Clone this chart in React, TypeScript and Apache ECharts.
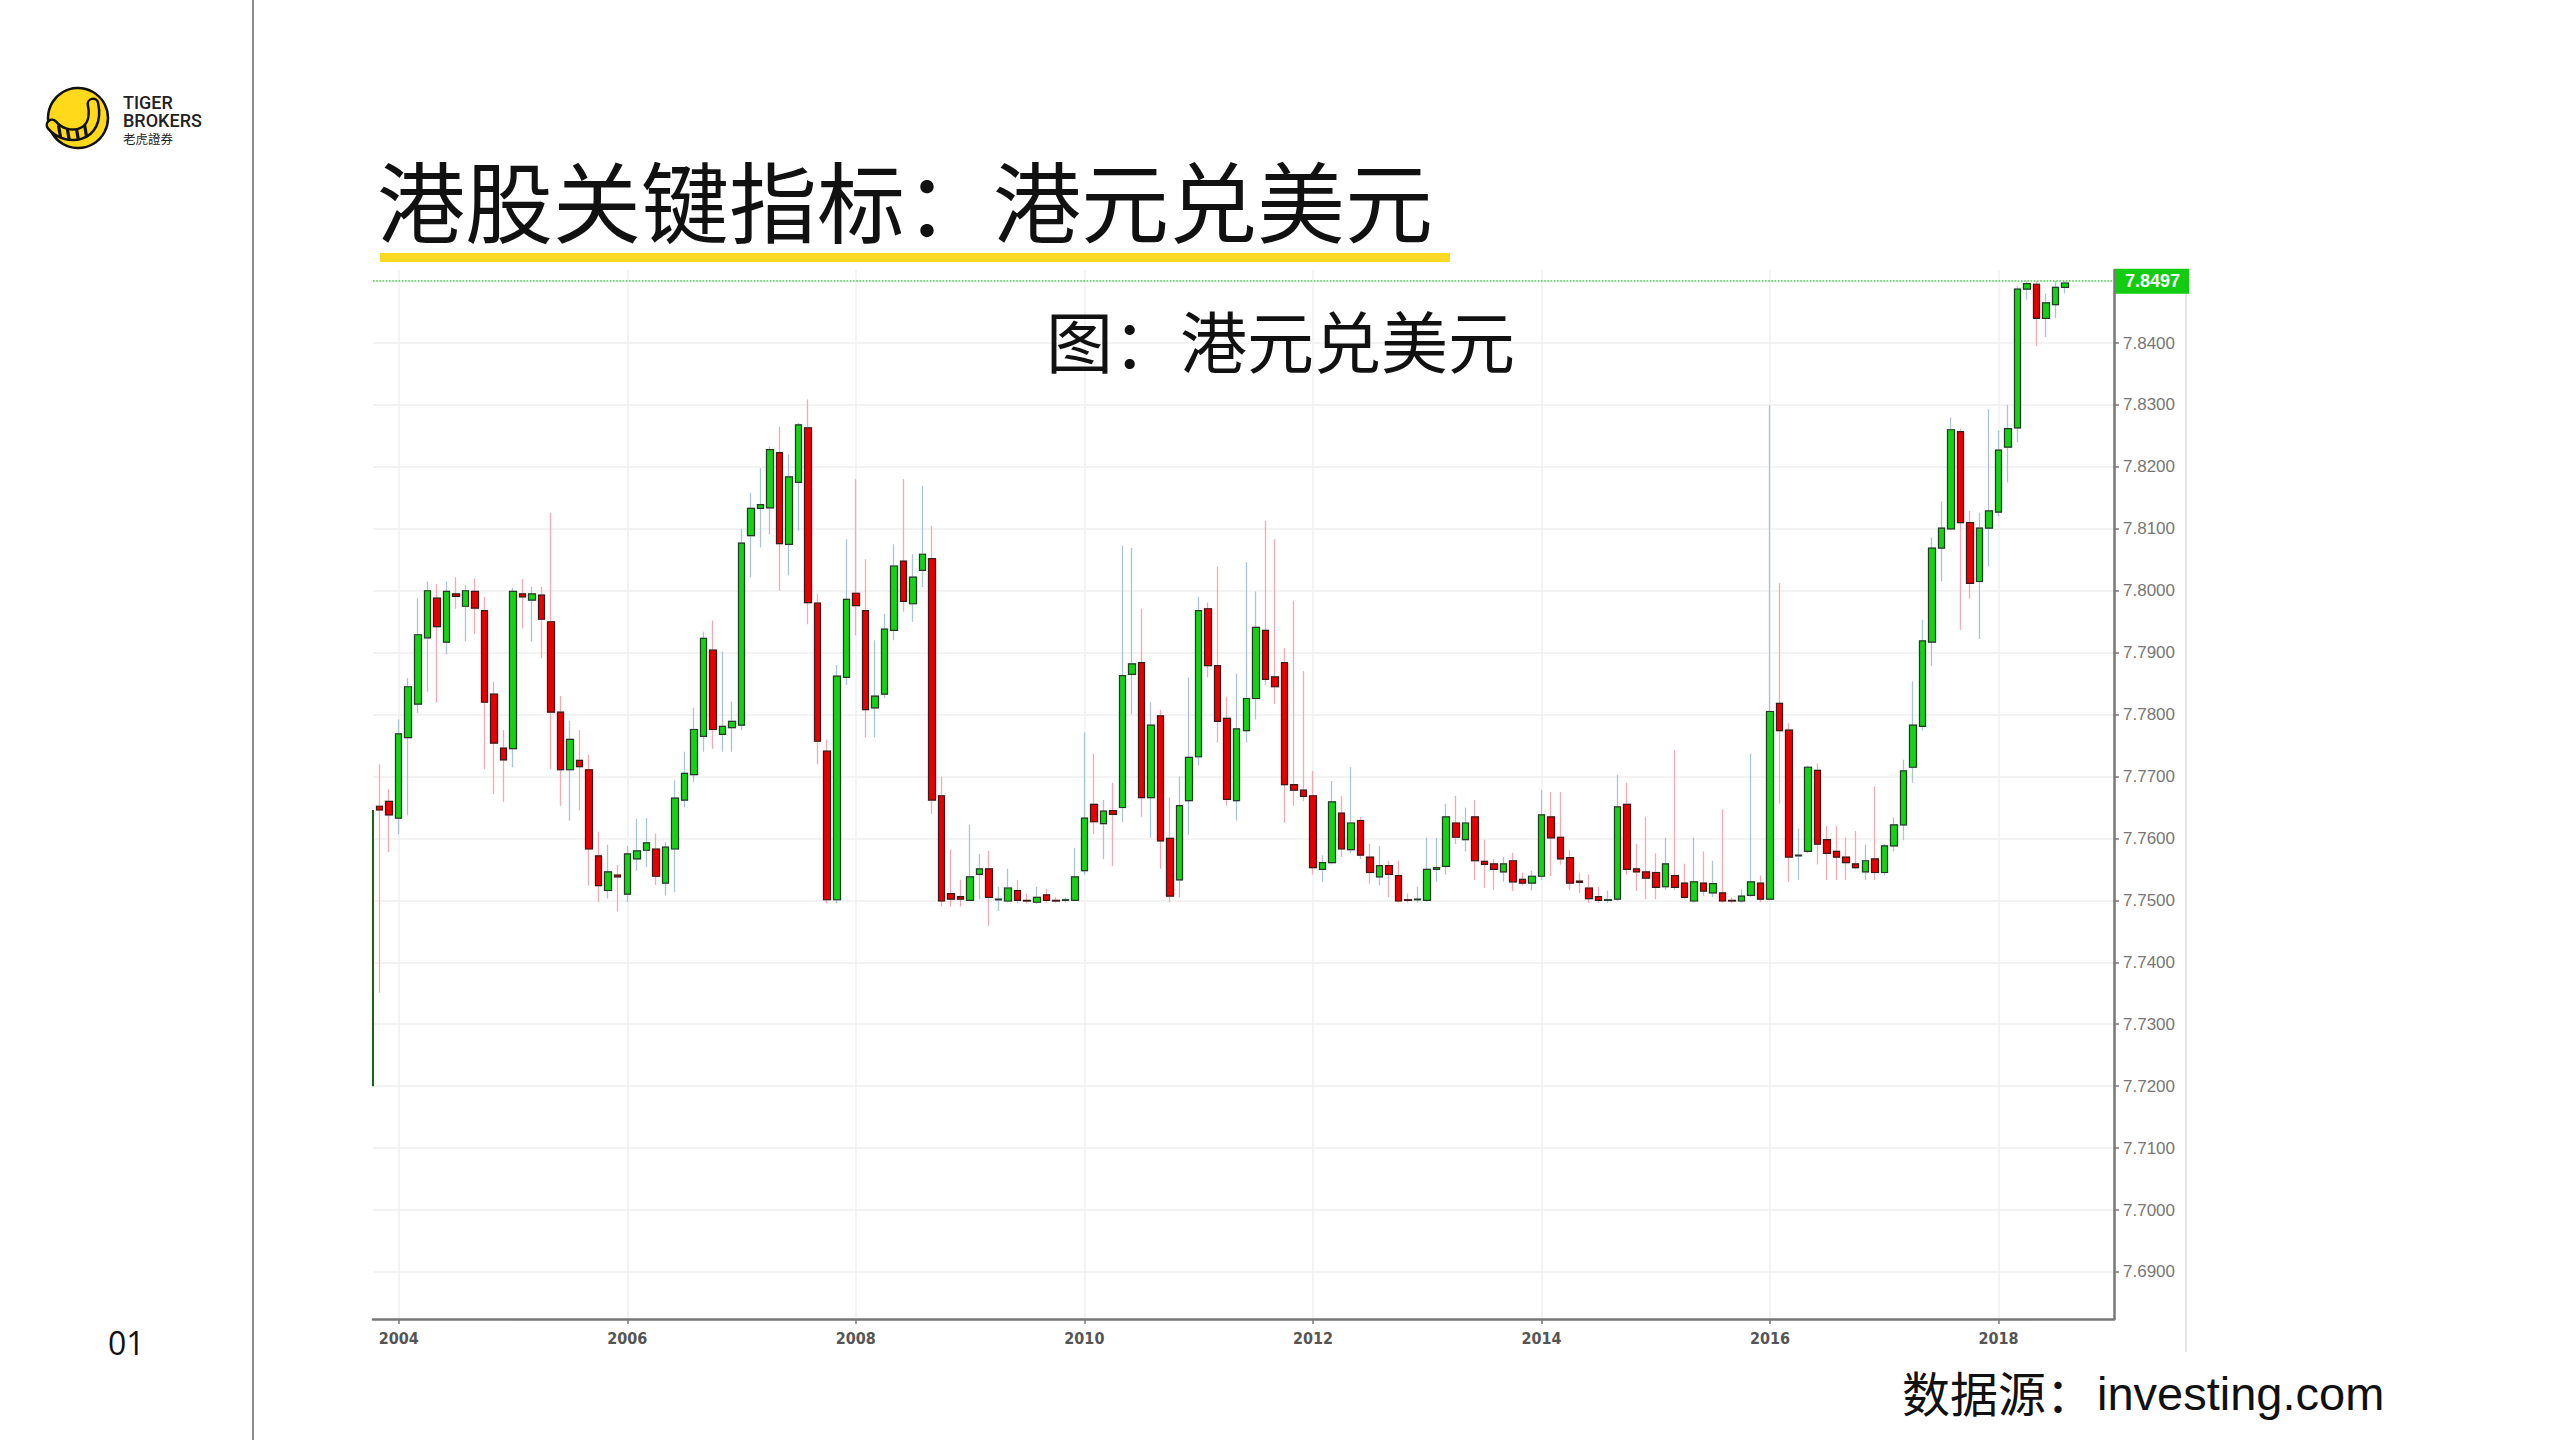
import React, { useEffect, useRef } from "react";
import * as echarts from "echarts";

// Monthly USD/HKD candles, first candle = October 2003
const FIRST_YEAR = 2003;
const FIRST_MONTH = 10;

const openValues = [
  7.7200, 7.7652, 7.7660,
  7.7633, 7.7763, 7.7817, 7.7924, 7.7988, 7.7917, 7.7995, 7.7975, 7.7999, 7.7968, 7.7833, 7.7746,
  7.7745, 7.7995, 7.7985, 7.7993, 7.7950, 7.7804, 7.7711, 7.7726, 7.7711, 7.7572, 7.7516, 7.7541,
  7.7510, 7.7567, 7.7581, 7.7583, 7.7528, 7.7583, 7.7662, 7.7703, 7.7765, 7.7904, 7.7768, 7.7779,
  7.7783, 7.8089, 7.8133, 7.8134, 7.8223, 7.8075, 7.8175, 7.8263, 7.7980, 7.7741, 7.7501, 7.7860,
  7.7996, 7.7968, 7.7811, 7.7833, 7.7936, 7.8048, 7.7979, 7.8033, 7.8052, 7.7669, 7.7511, 7.7506,
  7.7500, 7.7542, 7.7551, 7.7501, 7.7499, 7.7516, 7.7500, 7.7497, 7.7509, 7.7500, 7.7500, 7.7500,
  7.7548, 7.7655, 7.7624, 7.7645, 7.7650, 7.7865, 7.7884, 7.7666, 7.7798, 7.7600, 7.7533, 7.7661,
  7.7732, 7.7971, 7.7879, 7.7794, 7.7661, 7.7774, 7.7826, 7.7936, 7.7861, 7.7884, 7.7687, 7.7678,
  7.7669, 7.7550, 7.7561, 7.7641, 7.7582, 7.7629, 7.7570, 7.7538, 7.7556, 7.7540, 7.7501, 7.7501,
  7.7500, 7.7550, 7.7555, 7.7625, 7.7598, 7.7635, 7.7563, 7.7559, 7.7546, 7.7564, 7.7534, 7.7528,
  7.7539, 7.7635, 7.7602, 7.7569, 7.7531, 7.7520, 7.7506, 7.7500, 7.7502, 7.7655, 7.7551, 7.7546,
  7.7545, 7.7522, 7.7540, 7.7528, 7.7499, 7.7528, 7.7512, 7.7512, 7.7500, 7.7499, 7.7508, 7.7528,
  7.7502, 7.7818, 7.7775, 7.7572, 7.7579, 7.7710, 7.7598, 7.7579, 7.7570, 7.7559, 7.7546, 7.7567,
  7.7545, 7.7588, 7.7622, 7.7715, 7.7781, 7.7917, 7.8069, 7.8100, 7.8257, 7.8110, 7.8015, 7.8101,
  7.8127, 7.8232, 7.8263, 7.8487, 7.8495, 7.8440, 7.8462, 7.8490,
];

const closeValues = [
  7.7646, 7.7646, 7.7638,
  7.7769, 7.7845, 7.7929, 7.8000, 7.7942, 7.7999, 7.7991, 7.8000, 7.7972, 7.7820, 7.7754, 7.7727,
  7.7999, 7.7990, 7.7995, 7.7954, 7.7804, 7.7711, 7.7760, 7.7716, 7.7583, 7.7524, 7.7546, 7.7538,
  7.7575, 7.7580, 7.7593, 7.7539, 7.7586, 7.7665, 7.7705, 7.7776, 7.7923, 7.7776, 7.7781, 7.7789,
  7.8077, 7.8133, 7.8139, 7.8228, 7.8076, 7.8184, 7.8268, 7.7981, 7.7757, 7.7501, 7.7862, 7.7986,
  7.7976, 7.7808, 7.7830, 7.7938, 7.8040, 7.7983, 7.8022, 7.8059, 7.7662, 7.7499, 7.7502, 7.7502,
  7.7538, 7.7551, 7.7505, 7.7502, 7.7520, 7.7500, 7.7499, 7.7505, 7.7500, 7.7499, 7.7501, 7.7538,
  7.7633, 7.7627, 7.7644, 7.7639, 7.7863, 7.7882, 7.7666, 7.7783, 7.7596, 7.7507, 7.7653, 7.7731,
  7.7968, 7.7879, 7.7789, 7.7663, 7.7777, 7.7826, 7.7941, 7.7857, 7.7845, 7.7687, 7.7678, 7.7668,
  7.7553, 7.7561, 7.7659, 7.7583, 7.7625, 7.7573, 7.7545, 7.7556, 7.7542, 7.7499, 7.7500, 7.7502,
  7.7550, 7.7553, 7.7635, 7.7602, 7.7625, 7.7564, 7.7558, 7.7550, 7.7559, 7.7530, 7.7528, 7.7539,
  7.7638, 7.7601, 7.7567, 7.7528, 7.7529, 7.7503, 7.7500, 7.7501, 7.7651, 7.7550, 7.7546, 7.7536,
  7.7521, 7.7559, 7.7521, 7.7505, 7.7530, 7.7515, 7.7527, 7.7499, 7.7499, 7.7507, 7.7530, 7.7502,
  7.7805, 7.7774, 7.7570, 7.7573, 7.7715, 7.7591, 7.7576, 7.7570, 7.7561, 7.7553, 7.7564, 7.7545,
  7.7588, 7.7622, 7.7709, 7.7783, 7.7919, 7.8069, 7.8101, 7.8260, 7.8110, 7.8012, 7.8101, 7.8129,
  7.8227, 7.8262, 7.8487, 7.8496, 7.8440, 7.8465, 7.8490, 7.8497,
];

const lowValues = [
  7.7150, 7.7351, 7.7578,
  7.7607, 7.7637, 7.7803, 7.7837, 7.7819, 7.7897, 7.7971, 7.7918, 7.7930, 7.7712, 7.7672, 7.7659,
  7.7715, 7.7939, 7.7918, 7.7891, 7.7712, 7.7653, 7.7629, 7.7645, 7.7524, 7.7497, 7.7503, 7.7482,
  7.7497, 7.7548, 7.7554, 7.7525, 7.7508, 7.7513, 7.7650, 7.7691, 7.7740, 7.7745, 7.7740, 7.7740,
  7.7775, 7.8022, 7.8070, 7.8091, 7.8000, 7.8025, 7.8097, 7.7946, 7.7720, 7.7495, 7.7495, 7.7848,
  7.7928, 7.7763, 7.7763, 7.7827, 7.7920, 7.7966, 7.7950, 7.8006, 7.7640, 7.7490, 7.7490, 7.7490,
  7.7499, 7.7502, 7.7459, 7.7483, 7.7496, 7.7495, 7.7495, 7.7494, 7.7496, 7.7496, 7.7496, 7.7499,
  7.7542, 7.7607, 7.7567, 7.7555, 7.7626, 7.7800, 7.7635, 7.7601, 7.7551, 7.7497, 7.7505, 7.7606,
  7.7718, 7.7860, 7.7755, 7.7653, 7.7629, 7.7755, 7.7792, 7.7848, 7.7817, 7.7625, 7.7653, 7.7660,
  7.7542, 7.7530, 7.7558, 7.7570, 7.7576, 7.7567, 7.7527, 7.7524, 7.7505, 7.7496, 7.7496, 7.7496,
  7.7498, 7.7530, 7.7542, 7.7591, 7.7579, 7.7533, 7.7520, 7.7517, 7.7530, 7.7515, 7.7524, 7.7516,
  7.7533, 7.7539, 7.7558, 7.7517, 7.7512, 7.7496, 7.7496, 7.7496, 7.7499, 7.7542, 7.7515, 7.7502,
  7.7502, 7.7517, 7.7517, 7.7502, 7.7496, 7.7507, 7.7505, 7.7496, 7.7496, 7.7496, 7.7505, 7.7497,
  7.7500, 7.7656, 7.7530, 7.7533, 7.7576, 7.7558, 7.7533, 7.7533, 7.7533, 7.7550, 7.7533, 7.7533,
  7.7540, 7.7579, 7.7597, 7.7690, 7.7774, 7.7879, 7.8015, 7.8098, 7.7937, 7.7987, 7.7922, 7.8039,
  7.8120, 7.8175, 7.8240, 7.8470, 7.8395, 7.8410, 7.8440, 7.8480,
];

const highValues = [
  7.7660, 7.7720, 7.7680,
  7.7792, 7.7859, 7.7988, 7.8015, 7.8011, 7.8015, 7.8022, 7.8009, 7.8020, 7.7990, 7.7853, 7.7775,
  7.8005, 7.8019, 7.8006, 7.8006, 7.8126, 7.7830, 7.7790, 7.7775, 7.7735, 7.7611, 7.7590, 7.7557,
  7.7588, 7.7632, 7.7633, 7.7608, 7.7594, 7.7694, 7.7740, 7.7811, 7.7934, 7.7952, 7.7902, 7.7821,
  7.8100, 7.8158, 7.8198, 7.8233, 7.8265, 7.8220, 7.8271, 7.8309, 7.7995, 7.7760, 7.7880, 7.8083,
  7.8180, 7.8051, 7.7920, 7.7963, 7.8075, 7.8180, 7.8059, 7.8169, 7.8105, 7.7700, 7.7582, 7.7533,
  7.7622, 7.7575, 7.7580, 7.7522, 7.7551, 7.7533, 7.7511, 7.7522, 7.7519, 7.7505, 7.7505, 7.7585,
  7.7771, 7.7737, 7.7662, 7.7690, 7.8073, 7.8069, 7.7971, 7.7820, 7.7808, 7.7666, 7.7700, 7.7860,
  7.7990, 7.7981, 7.8039, 7.7829, 7.7866, 7.8046, 7.7999, 7.8113, 7.8083, 7.7907, 7.7984, 7.7870,
  7.7709, 7.7573, 7.7693, 7.7669, 7.7715, 7.7635, 7.7591, 7.7588, 7.7564, 7.7564, 7.7511, 7.7522,
  7.7601, 7.7601, 7.7656, 7.7669, 7.7650, 7.7662, 7.7598, 7.7567, 7.7570, 7.7577, 7.7545, 7.7548,
  7.7678, 7.7675, 7.7675, 7.7581, 7.7545, 7.7542, 7.7522, 7.7516, 7.7703, 7.7690, 7.7591, 7.7635,
  7.7576, 7.7601, 7.7743, 7.7559, 7.7601, 7.7579, 7.7564, 7.7647, 7.7505, 7.7518, 7.7737, 7.7540,
  7.8299, 7.8012, 7.7786, 7.7616, 7.7718, 7.7721, 7.7620, 7.7620, 7.7601, 7.7612, 7.7590, 7.7684,
  7.7591, 7.7634, 7.7727, 7.7854, 7.7953, 7.8086, 7.8144, 7.8280, 7.8262, 7.8129, 7.8126, 7.8293,
  7.8259, 7.8300, 7.8492, 7.8500, 7.8500, 7.8480, 7.8500, 7.8500,
];

const yearTicks = [2004, 2006, 2008, 2010, 2012, 2014, 2016, 2018];
const priceTicks = [
  7.69, 7.7, 7.71, 7.72, 7.73, 7.74, 7.75, 7.76, 7.77, 7.78, 7.79, 7.8, 7.81, 7.82, 7.83, 7.84,
];
const lastPrice = 7.8497;

const X_MIN = 2003.775;
const X_MAX = 2019.01;
const Y_MIN = 7.6824;
const Y_MAX = 7.8518;

const CJK = "'Noto Sans CJK SC', 'Noto Sans', sans-serif";
const YELLOW = "#FAD923";

export default function App() {
  const ref = useRef<HTMLDivElement>(null);

  useEffect(() => {
    if (!ref.current) return;
    const chart = echarts.init(ref.current, null, { renderer: "svg" });

    const xs = openValues.map((_, i) => FIRST_YEAR + (FIRST_MONTH - 1 + i) / 12);
    // candles whose centre lies left of the axis start are cut by the plot edge:
    // only their right body border is visible there
    const cut = xs.map((x, i) => i).filter((i) => xs[i] < X_MIN);
    const shown = xs.map((x, i) => i).filter((i) => xs[i] >= X_MIN);

    const wickData = shown.map((i) => [xs[i], openValues[i], closeValues[i], lowValues[i], highValues[i]]);
    const bodyData = shown.map((i) => [
      xs[i],
      openValues[i],
      closeValues[i],
      Math.min(openValues[i], closeValues[i]),
      Math.max(openValues[i], closeValues[i]),
    ]);
    const cutEdges = cut.map((i) => [
      {
        coord: [X_MIN, openValues[i]],
        lineStyle: { color: "#1f5f1f", width: 2, type: "solid" },
        label: { show: false },
      },
      { coord: [X_MIN, closeValues[i]] },
    ]);

    // tiger tail geometry (logo)
    const tail = { x1: 52, y1: 125, cpx1: 66, cpy1: 142, cpx2: 100, cpy2: 138, x2: 93, y2: 104 };
    const stripePts = [
      [59.5, 131.2],
      [68.3, 134.4],
      [77.4, 134.3],
      [85.6, 131],
    ];

    chart.setOption({
      animation: false,
      backgroundColor: "#ffffff",
      grid: {
        left: 373,
        top: 270,
        width: 1741,
        height: 1049,
        containLabel: false,
        outerBoundsMode: "none",
      },
      xAxis: {
        type: "value",
        min: X_MIN,
        max: X_MAX,
        axisLine: { show: true, onZero: false, lineStyle: { color: "#777777", width: 2.5 } },
        axisTick: {
          show: true,
          customValues: yearTicks,
          length: 5,
          lineStyle: { color: "#777777", width: 1.5 },
        },
        axisLabel: {
          show: true,
          customValues: yearTicks,
          formatter: (v: number) => String(Math.round(v)),
          color: "#555555",
          fontSize: 16,
          fontWeight: "bold",
          fontFamily: "'Liberation Sans Narrow', 'DejaVu Sans Condensed', 'Liberation Sans', sans-serif",
          margin: 11,
        },
        splitLine: { show: true, lineStyle: { color: "#eef0f2", width: 1.5 } },
      },
      yAxis: {
        type: "value",
        position: "right",
        min: Y_MIN,
        max: Y_MAX,
        scale: true,
        axisLine: { show: true, lineStyle: { color: "#777777", width: 2.5 } },
        axisTick: {
          show: true,
          customValues: priceTicks,
          length: 5,
          lineStyle: { color: "#777777", width: 1.5 },
        },
        axisLabel: {
          show: true,
          customValues: priceTicks,
          formatter: (v: number) => v.toFixed(4),
          color: "#777777",
          fontSize: 17,
          fontFamily: "'Liberation Sans', Arial, sans-serif",
          margin: 9,
        },
        splitLine: { show: true, lineStyle: { color: "#efefef", width: 1.5 } },
      },
      series: [
        {
          type: "candlestick",
          name: "wick",
          data: wickData,
          barWidth: 7,
          clip: true,
          silent: true,
          z: 2,
          itemStyle: {
            color: "rgba(0,0,0,0)",
            color0: "rgba(0,0,0,0)",
            borderColor: "#a9c5d2",
            borderColor0: "#f4a9b3",
            borderColorDoji: "#a9c5d2",
            borderWidth: 1.3,
          },
        },
        {
          type: "candlestick",
          name: "body",
          data: bodyData,
          barWidth: 7,
          clip: true,
          silent: true,
          z: 3,
          itemStyle: {
            color: "#14d214",
            color0: "#e80000",
            borderColor: "#263826",
            borderColor0: "#3a1a1a",
            borderColorDoji: "#333333",
            borderWidth: 1.2,
          },
          markLine: {
            silent: true,
            animation: false,
            symbol: ["none", "none"],
            lineStyle: { color: "#3ccf3c", type: "dotted", width: 1.6 },
            emphasis: { disabled: true },
            label: {
              show: true,
              position: "end",
              formatter: lastPrice.toFixed(4),
              color: "#ffffff",
              backgroundColor: "#11cc11",
              fontSize: 18,
              fontWeight: "bold",
              fontFamily: "'Liberation Sans', Arial, sans-serif",
              padding: [4, 9, 3, 10],
              distance: 1,
            },
            data: [{ yAxis: lastPrice }, ...cutEdges],
          },
        },
      ],
      graphic: [
        // left page separator
        {
          type: "line",
          shape: { x1: 253, y1: 0, x2: 253, y2: 1440 },
          style: { stroke: "#8c8c8c", lineWidth: 2 },
        },
        // right edge of chart image
        {
          type: "line",
          shape: { x1: 2186, y1: 269, x2: 2186, y2: 1352 },
          style: { stroke: "#dddddd", lineWidth: 1.5 },
        },
        // logo
        {
          type: "circle",
          shape: { cx: 78, cy: 118, r: 30 },
          style: { fill: "#FFD91A", stroke: "#111111", lineWidth: 2.5 },
        },
        {
          type: "bezierCurve",
          shape: tail,
          style: { stroke: "#111111", lineWidth: 13, fill: "none", lineCap: "round" },
        },
        {
          type: "bezierCurve",
          shape: tail,
          style: { stroke: "#FFD91A", lineWidth: 8, fill: "none", lineCap: "round" },
        },
        ...stripePts.map(([sx, sy]) => ({
          type: "line",
          shape: { x1: sx - 1, y1: sy - 6, x2: sx + 1, y2: sy + 6 },
          style: { stroke: "#111111", lineWidth: 3.2 },
        })),
        {
          type: "text",
          x: 123,
          y: 102,
          style: {
            text: "TIGER",
            fill: "#222222",
            fontSize: 18,
            fontWeight: 500,
            fontFamily: "Roboto, 'Liberation Sans', sans-serif",
            verticalAlign: "middle",
            align: "left",
          },
        },
        {
          type: "text",
          x: 123,
          y: 120,
          style: {
            text: "BROKERS",
            fill: "#222222",
            fontSize: 18,
            fontWeight: 500,
            fontFamily: "Roboto, 'Liberation Sans', sans-serif",
            verticalAlign: "middle",
            align: "left",
          },
        },
        {
          type: "text",
          x: 123,
          y: 138,
          style: {
            text: "老虎證券",
            fill: "#222222",
            fontSize: 12.5,
            fontFamily: "'Noto Sans CJK TC', 'Noto Sans CJK SC', sans-serif",
            verticalAlign: "middle",
            align: "left",
          },
        },
        // title + underline
        {
          type: "text",
          x: 377,
          y: 197,
          style: {
            text: "港股关键指标：港元兑美元",
            fill: "#111111",
            fontSize: 88,
            fontWeight: "normal",
            fontFamily: CJK,
            verticalAlign: "middle",
            align: "left",
          },
        },
        {
          type: "rect",
          shape: { x: 380, y: 253, width: 1070, height: 9 },
          style: { fill: YELLOW },
        },
        // subtitle
        {
          type: "text",
          x: 1046,
          y: 338,
          style: {
            text: "图：港元兑美元",
            fill: "#111111",
            fontSize: 67,
            fontFamily: CJK,
            verticalAlign: "middle",
            align: "left",
          },
          z: 10,
        },
        // source
        {
          type: "text",
          x: 1902,
          y: 1391,
          style: {
            text: "数据源：",
            fill: "#111111",
            fontSize: 48,
            fontFamily: CJK,
            verticalAlign: "middle",
            align: "left",
          },
        },
        {
          type: "text",
          x: 2097,
          y: 1393,
          style: {
            text: "investing.com",
            fill: "#111111",
            fontSize: 47,
            fontFamily: "'Liberation Sans', Arial, sans-serif",
            verticalAlign: "middle",
            align: "left",
          },
        },
        // page number
        {
          type: "text",
          x: 108,
          y: 1342,
          style: {
            text: "01",
            fill: "#111111",
            fontSize: 32,
            fontFamily: "'Open Sans', 'Noto Sans', sans-serif",
            verticalAlign: "middle",
            align: "left",
          },
        },
      ],
    });

    return () => {
      chart.dispose();
    };
  }, []);

  return (
    <div
      ref={ref}
      style={{ position: "absolute", left: 0, top: 0, width: 2560, height: 1440, background: "#ffffff" }}
    />
  );
}
